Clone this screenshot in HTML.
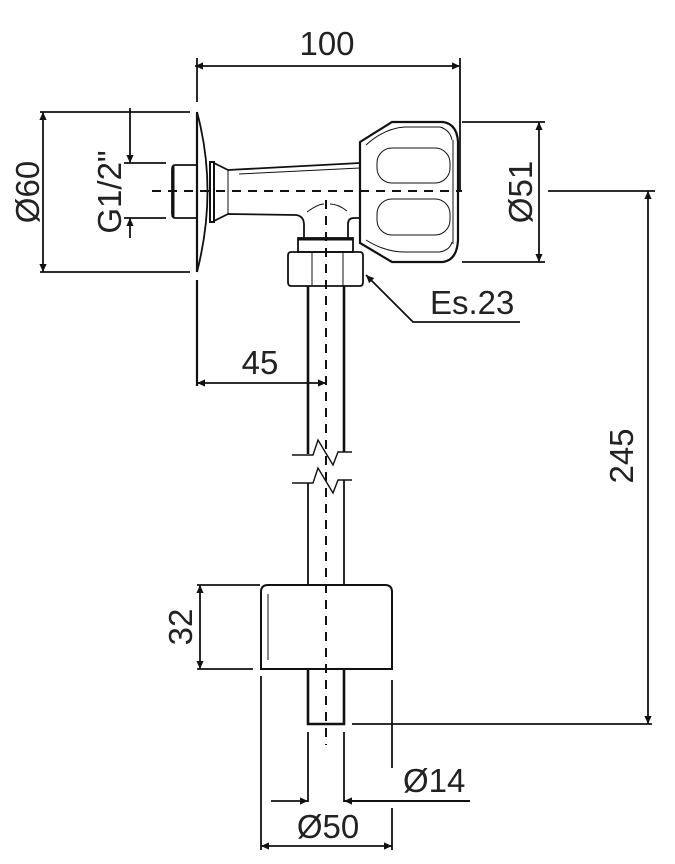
<!DOCTYPE html>
<html><head><meta charset="utf-8"><style>
html,body{margin:0;padding:0;background:#fff;}
svg{display:block;}
text{font-family:"Liberation Sans",sans-serif;fill:#222;font-size:33px;}
</style></head><body>
<svg width="675" height="864" viewBox="0 0 675 864" xmlns="http://www.w3.org/2000/svg">
<defs>
<marker id="a" viewBox="0 0 10 10" refX="10" refY="5" markerWidth="17" markerHeight="8" markerUnits="userSpaceOnUse" orient="auto-start-reverse"><path d="M0,0.5 L10,5 L0,9.5 z" fill="#111"/></marker>
</defs>
<g stroke="#111" fill="none" stroke-width="1.8">
<line x1="195" y1="66" x2="460" y2="66" marker-start="url(#a)" marker-end="url(#a)"/>
<line x1="460" y1="58" x2="460" y2="190"/>
<line x1="197" y1="58" x2="197" y2="102"/>
<line x1="197" y1="112" x2="197" y2="272" stroke-width="2.2"/>
<line x1="197" y1="280" x2="197" y2="386" stroke-width="2.2"/>
<path d="M197,112 Q218,190 197,272" stroke-width="1.8"/>
<line x1="40" y1="112" x2="190" y2="112"/>
<line x1="40" y1="272" x2="190" y2="272"/>
<line x1="43" y1="112" x2="43" y2="272" marker-start="url(#a)" marker-end="url(#a)"/>
<line x1="124" y1="163" x2="166" y2="163"/>
<line x1="124" y1="218" x2="166" y2="218"/>
<line x1="130" y1="108" x2="130" y2="163" marker-end="url(#a)"/>
<line x1="130" y1="238" x2="130" y2="218" marker-end="url(#a)"/>
<path d="M197,165 H175 Q172,165 172,170 V213 Q172,218 175,218 H197"/>
<line x1="173" y1="166" x2="173" y2="217" stroke-width="3"/>
<rect x="210" y="162" width="4" height="60" stroke-width="2"/>
<path d="M214,163 Q220,166 228,170 L360,163"/>
<path d="M214,221 Q220,218 228,214 L296,215 Q304,216 304,225 V238"/>
<line x1="228" y1="170" x2="228" y2="214" stroke-width="1"/>
<line x1="239" y1="174" x2="360" y2="168" stroke-width="1"/>
<path d="M348,238 V224 Q348,218 354,218 H360"/>
<path d="M307,212 Q318,204 324,204 M330,204 Q338,204 347,211" stroke-width="1"/>
<rect x="298" y="238" width="55" height="14"/>
<line x1="298" y1="239" x2="353" y2="239" stroke-width="3"/>
<path d="M291,252 H360 Q363,252 363,256 V282 Q363,286 360,286 H291 Q288,286 288,282 V256 Q288,252 291,252 Z"/>
<line x1="312" y1="252" x2="312" y2="286" stroke-width="1"/>
<line x1="343" y1="252" x2="343" y2="286" stroke-width="1"/>
<path d="M360,142 L392,122 H443 Q457,124 458,142 V240 Q457,260 443,262 H392 L360,243 Z" stroke-width="2.2"/>
<path d="M366,145 Q385,128 405,127 H440 Q450,130 452,140" stroke-width="1"/>
<path d="M366,240 Q385,252 405,252 H440 Q450,250 452,242" stroke-width="1"/>
<rect x="377" y="148" width="73" height="35" rx="15" stroke-width="1"/>
<rect x="377" y="199" width="73" height="36" rx="15" stroke-width="1"/>
<line x1="453" y1="140" x2="453" y2="244" stroke-width="1"/>
<line x1="462" y1="122" x2="545" y2="122"/>
<line x1="462" y1="262" x2="545" y2="262"/>
<line x1="539" y1="122" x2="539" y2="262" marker-start="url(#a)" marker-end="url(#a)"/>
<line x1="152" y1="191" x2="462" y2="191" stroke-dasharray="9,7" stroke-width="2"/>
<line x1="548" y1="191" x2="655" y2="191"/>
<polyline points="366,275 413,322 520,322" marker-start="url(#a)"/>
<line x1="308" y1="286" x2="308" y2="454" stroke-width="2.6"/>
<line x1="344" y1="286" x2="344" y2="452" stroke-width="2.6"/>
<line x1="326" y1="200" x2="326" y2="745" stroke-dasharray="9,7" stroke-width="2"/>
<line x1="197" y1="383" x2="326" y2="383" marker-start="url(#a)" marker-end="url(#a)"/>
<polyline points="292,455 313,455 318,440 333,465 338,452 352,452" stroke-width="1.4"/>
<polyline points="292,483 313,483 318,468 333,493 338,480 352,480" stroke-width="1.4"/>
<line x1="308" y1="483" x2="308" y2="585"/>
<line x1="344" y1="480" x2="344" y2="585"/>
<path d="M261,669 V592 Q261,585 268,585 H385 Q392,585 392,592 V669 Z" stroke-width="2"/>
<line x1="268" y1="594" x2="268" y2="660" stroke-width="1"/>
<path d="M308,669 V724 H344 V669" stroke-width="2.6"/>
<line x1="197" y1="585" x2="260" y2="585"/>
<line x1="197" y1="669" x2="253" y2="669"/>
<line x1="200" y1="585" x2="200" y2="669" marker-start="url(#a)" marker-end="url(#a)"/>
<line x1="352" y1="724" x2="652" y2="724"/>
<line x1="648" y1="191" x2="648" y2="724" marker-start="url(#a)" marker-end="url(#a)"/>
<line x1="308" y1="732" x2="308" y2="802"/>
<line x1="344" y1="732" x2="344" y2="802"/>
<line x1="271" y1="801" x2="308" y2="801" marker-end="url(#a)"/>
<line x1="470" y1="801" x2="344" y2="801" marker-end="url(#a)" stroke-width="2"/>
<line x1="261" y1="676" x2="261" y2="850"/>
<line x1="392" y1="680" x2="392" y2="768"/>
<line x1="392" y1="808" x2="392" y2="850"/>
<line x1="261" y1="846" x2="392" y2="846" marker-start="url(#a)" marker-end="url(#a)"/>
</g>
<text x="327" y="55" text-anchor="middle">100</text>
<text x="260" y="374" text-anchor="middle">45</text>
<text x="430" y="314">Es.23</text>
<text x="403" y="792">Ø14</text>
<text x="328" y="838" text-anchor="middle">Ø50</text>
<text transform="translate(39,192) rotate(-90)" text-anchor="middle">Ø60</text>
<text transform="translate(121,192) rotate(-90)" text-anchor="middle">G1/2"</text>
<text transform="translate(532,192) rotate(-90)" text-anchor="middle">Ø51</text>
<text transform="translate(633,456) rotate(-90)" text-anchor="middle">245</text>
<text transform="translate(192,627) rotate(-90)" text-anchor="middle">32</text>
</svg>
</body></html>
